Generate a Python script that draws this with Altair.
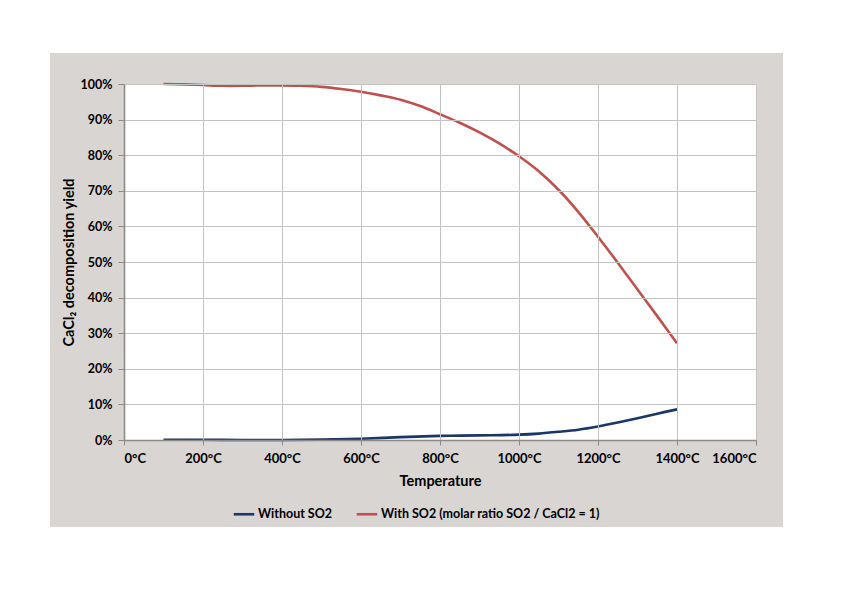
import altair as alt
import pandas as pd

# Series (temperature in °C, yield as fraction)
temp_red = [100, 150, 200, 250, 300, 350, 400, 450, 500, 550, 600, 650, 700, 750, 800,
            850, 900, 950, 1000, 1050, 1100, 1150, 1200, 1250, 1300, 1350, 1400]
yield_red = [1.000, 0.999, 0.997, 0.995, 0.995, 0.996, 0.996, 0.995, 0.992, 0.986, 0.978,
             0.968, 0.956, 0.938, 0.915, 0.891, 0.864, 0.833, 0.797, 0.755, 0.703, 0.641,
             0.571, 0.498, 0.423, 0.348, 0.272]

temp_blue = [100, 200, 300, 400, 500, 600, 700, 800, 900, 1000, 1050, 1100, 1150, 1200,
             1250, 1300, 1350, 1400]
yield_blue = [0.0005, 0.0005, 0.0, 0.0, 0.001, 0.0035, 0.008, 0.0115, 0.013, 0.015, 0.018,
              0.023, 0.029, 0.038, 0.049, 0.061, 0.074, 0.086]

series_names = ["Without SO2", "With SO2 (molar ratio SO2 / CaCl2 = 1)"]
series_colors = ["#1b3766", "#c0504d"]

x_ticks = [0, 200, 400, 600, 800, 1000, 1200, 1400, 1600]
y_ticks = [0, 0.1, 0.2, 0.3, 0.4, 0.5, 0.6, 0.7, 0.8, 0.9, 1.0]

df = pd.concat([
    pd.DataFrame({"T": temp_blue, "Y": yield_blue, "S": series_names[0], "o": 0}),
    pd.DataFrame({"T": temp_red, "Y": yield_red, "S": series_names[1], "o": 1}),
])

W, H = 632, 356
FONT = "Lato"
one = pd.DataFrame({"a": [0]})

gray_bg = alt.Chart(one).mark_rect(color="#d8d5d2").encode(
    x=alt.value(-74), x2=alt.value(659), y=alt.value(-31), y2=alt.value(443))
white_bg = alt.Chart(one).mark_rect(color="#ffffff").encode(
    x=alt.value(0), x2=alt.value(W), y=alt.value(0), y2=alt.value(H))

lines = alt.Chart(df).mark_line(interpolate="catmull-rom", strokeWidth=2.6).encode(
    x=alt.X("T:Q", scale=alt.Scale(domain=[0, 1600], nice=False),
            axis=alt.Axis(values=x_ticks, labelExpr="datum.value + '°C'",
                          title="Temperature", titleX=W / 2, titleY=45,
                          titleBaseline="alphabetic", zindex=1, tickSize=5,
                          labelPadding=7, labelFontSize=13)),
    y=alt.Y("Y:Q", scale=alt.Scale(domain=[0, 1], nice=False),
            axis=alt.Axis(values=y_ticks, format=".0%",
                          title="CaCl₂ decomposition yield", titleX=-51, titleY=H / 2,
                          titleAngle=-90, titleBaseline="alphabetic", zindex=1, tickSize=6,
                          labelPadding=6)),
    color=alt.Color("S:N", scale=alt.Scale(domain=series_names, range=series_colors),
                    legend=alt.Legend(title=None, orient="none", legendX=108, legendY=418,
                                      direction="horizontal", symbolType="stroke",
                                      symbolSize=420, symbolStrokeWidth=2.6,
                                      columnPadding=18, labelOffset=2, labelLimit=0)),
    order="o:Q",
    detail="S:N",
)

chart = alt.layer(gray_bg, white_bg, lines).properties(
    width=W, height=H,
    autosize=alt.AutoSizeParams(type="none"),
    padding={"left": 116, "top": 76, "right": 60, "bottom": 130},
    background="#ffffff",
).configure_view(stroke=None).configure_axis(
    gridColor="#c3c3c3", gridWidth=1,
    domainColor="#8a8a8a", domainWidth=1.6,
    tickColor="#8a8a8a",
    labelFont=FONT, labelFontWeight="bold", labelFontSize=12.5, labelColor="#000000",
    titleFont=FONT, titleFontWeight="bold", titleFontSize=14.5, titleColor="#000000",
).configure_legend(
    labelFont=FONT, labelFontWeight="bold", labelFontSize=12.5, labelColor="#000000",
)

chart.save("out.html", embed_options={"renderer": "svg", "actions": False})
